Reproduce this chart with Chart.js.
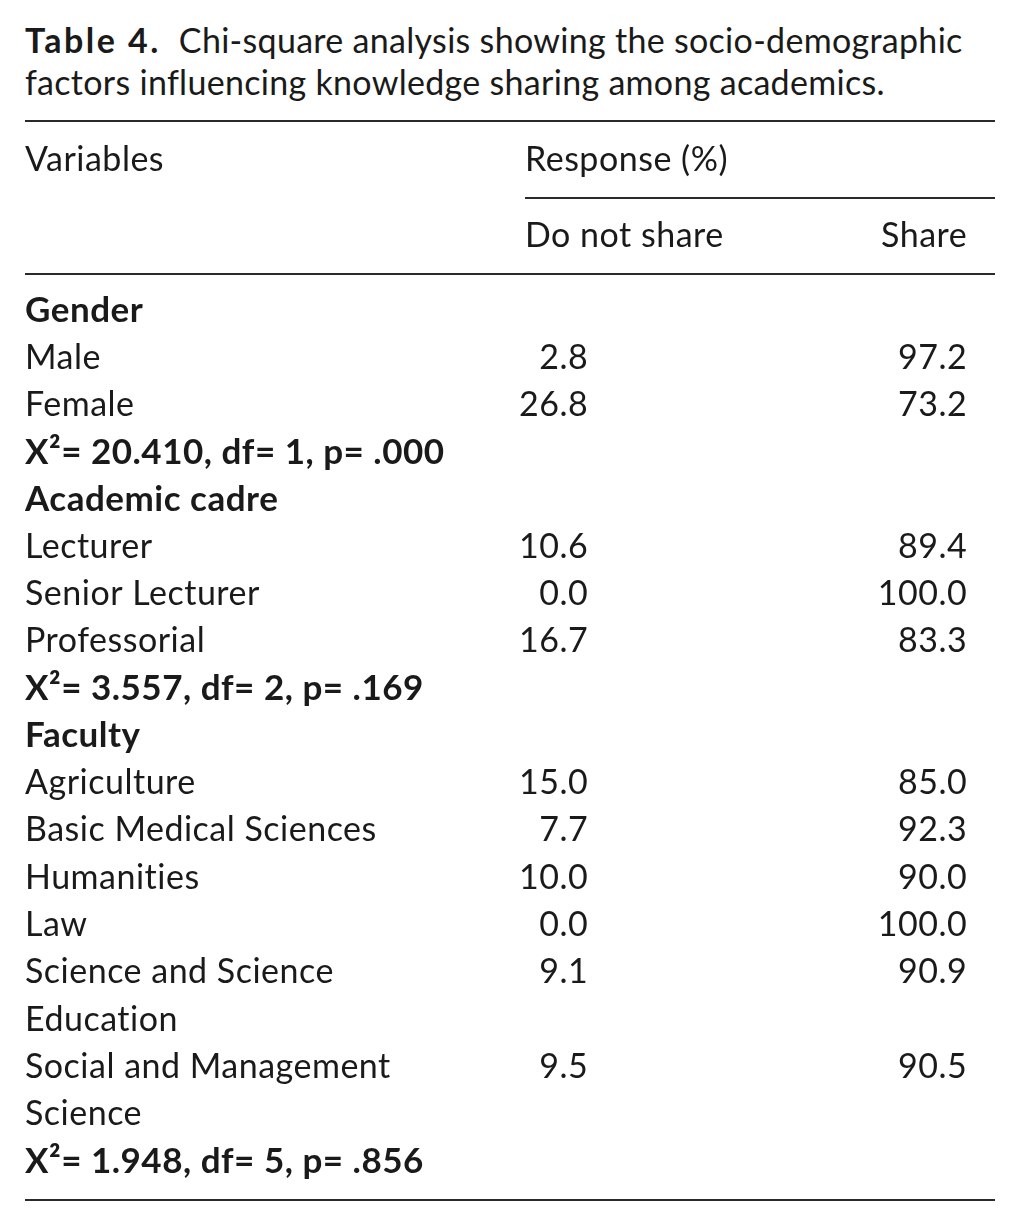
<!DOCTYPE html>
<html>
<head>
<meta charset="utf-8">
<script src="https://cdn.jsdelivr.net/npm/chart.js@4.4.1/dist/chart.umd.min.js"></script>
<style>
  html, body { margin: 0; padding: 0; background: #fff; }
  #wrap { position: relative; width: 1020px; height: 1229px; }
  #caption {
    position: absolute; left: 25px; top: 19px;
    font-family: Lato, sans-serif; font-size: 34px; line-height: 42px;
    letter-spacing: 0.3px; color: #1a1a1a; white-space: nowrap;
  }
  #caption b { font-weight: bold; letter-spacing: 2.5px; }
  canvas { position: absolute; left: 0; top: 0; }
</style>
</head>
<body>
<div id="wrap">
  <div id="caption"><b>Table 4.</b>&nbsp; Chi-square analysis showing the socio-demographic<br>factors influencing knowledge sharing among academics.</div>
  <canvas id="myChart" width="1020" height="1229"></canvas>
</div>
<script>
// table rows (one entry per printed line)
var rowLabels = [
  "Gender",
  "Male",
  "Female",
  "X\u00b2= 20.410, df= 1, p= .000",
  "Academic cadre",
  "Lecturer",
  "Senior Lecturer",
  "Professorial",
  "X\u00b2= 3.557, df= 2, p= .169",
  "Faculty",
  "Agriculture",
  "Basic Medical Sciences",
  "Humanities",
  "Law",
  "Science and Science",
  "Education",
  "Social and Management",
  "Science",
  "X\u00b2= 1.948, df= 5, p= .856"
];
var boldRows = [0, 3, 4, 8, 9, 18];

var columnLabels = ["Do not share", "Share"];
var groupHeader = "Response (%)";
var rowHeader = "Variables";

var doNotShare = [null, 2.8, 26.8, null, null, 10.6, 0.0, 16.7, null, null, 15.0, 7.7, 10.0, 0.0, 9.1, null, 9.5, null, null];
var share = [null, 97.2, 73.2, null, null, 89.4, 100.0, 83.3, null, null, 85.0, 92.3, 90.0, 100.0, 90.9, null, 90.5, null, null];

var FONT = "Lato, sans-serif";
var SIZE = 34;
var SPACING = "0.5px";
var INK = "#1a1a1a";

function cells(values, col) {
  var out = [];
  for (var i = 0; i < values.length; i++) {
    if (values[i] !== null) {
      out.push({ x: col, y: rowLabels[i], v: values[i] });
    }
  }
  return out;
}

// draws the numbers at the point positions, plus header text and rules
var tablePlugin = {
  id: "tableText",
  beforeDraw: function (chart) {
    // base state, so tick labels pick it up too
    chart.ctx.letterSpacing = SPACING;
  },
  afterDatasetsDraw: function (chart) {
    var ctx = chart.ctx;
    var area = chart.chartArea;
    var xScale = chart.scales.x;
    var yScale = chart.scales.y;

    ctx.save();
    ctx.fillStyle = INK;
    ctx.font = SIZE + "px " + FONT;
    ctx.letterSpacing = SPACING;
    ctx.textAlign = "right";
    ctx.textBaseline = "middle";
    chart.data.datasets.forEach(function (ds, d) {
      var meta = chart.getDatasetMeta(d);
      meta.data.forEach(function (pt, i) {
        ctx.fillText(ds.data[i].v.toFixed(1), pt.x + 1, pt.y);
      });
    });

    // header lines
    var h1 = area.top - 127;
    var h2 = area.top - 51;
    ctx.textAlign = "left";
    ctx.fillText(rowHeader, yScale.left, h1);
    ctx.fillText(groupHeader, area.left, h1);
    ctx.fillText(columnLabels[0], area.left, h2);
    ctx.textAlign = "right";
    ctx.fillText(columnLabels[1], xScale.getPixelForValue(1) + 1, h2);

    // rules
    ctx.strokeStyle = "#2a2a2a";
    ctx.lineWidth = 2;
    function rule(x0, x1, y) {
      ctx.beginPath();
      ctx.moveTo(x0, y);
      ctx.lineTo(x1, y);
      ctx.stroke();
    }
    rule(yScale.left, area.right, area.top - 166);
    rule(area.left, area.right, area.top - 89);
    rule(yScale.left, area.right, area.top - 13);
    rule(yScale.left, area.right, area.bottom + 15);
    ctx.restore();
  }
};

var ctx = document.getElementById("myChart").getContext("2d");
var myChart = new Chart(ctx, {
  type: "scatter",
  data: {
    datasets: [
      { label: columnLabels[0], data: cells(doNotShare, 0), pointRadius: 0, pointHoverRadius: 0 },
      { label: columnLabels[1], data: cells(share, 1), pointRadius: 0, pointHoverRadius: 0 }
    ]
  },
  plugins: [tablePlugin],
  options: {
    responsive: false,
    animation: false,
    events: [],
    layout: { padding: { left: 25, right: 25, top: 287, bottom: 44 } },
    plugins: {
      legend: { display: false },
      title: { display: false },
      tooltip: { enabled: false }
    },
    scales: {
      x: {
        type: "linear",
        display: false,
        min: -0.164,
        max: 1.076
      },
      y: {
        type: "category",
        labels: rowLabels,
        offset: true,
        grid: { display: false },
        border: { display: false },
        afterFit: function (scale) { scale.width = 500; },
        ticks: {
          autoSkip: false,
          crossAlign: "far",
          color: INK,
          font: function (c) {
            var bold = boldRows.indexOf(c.index) >= 0;
            return {
              family: FONT,
              size: bold ? 35 : SIZE,
              weight: bold ? "bold" : "normal"
            };
          }
        }
      }
    }
  }
});
</script>
</body>
</html>
